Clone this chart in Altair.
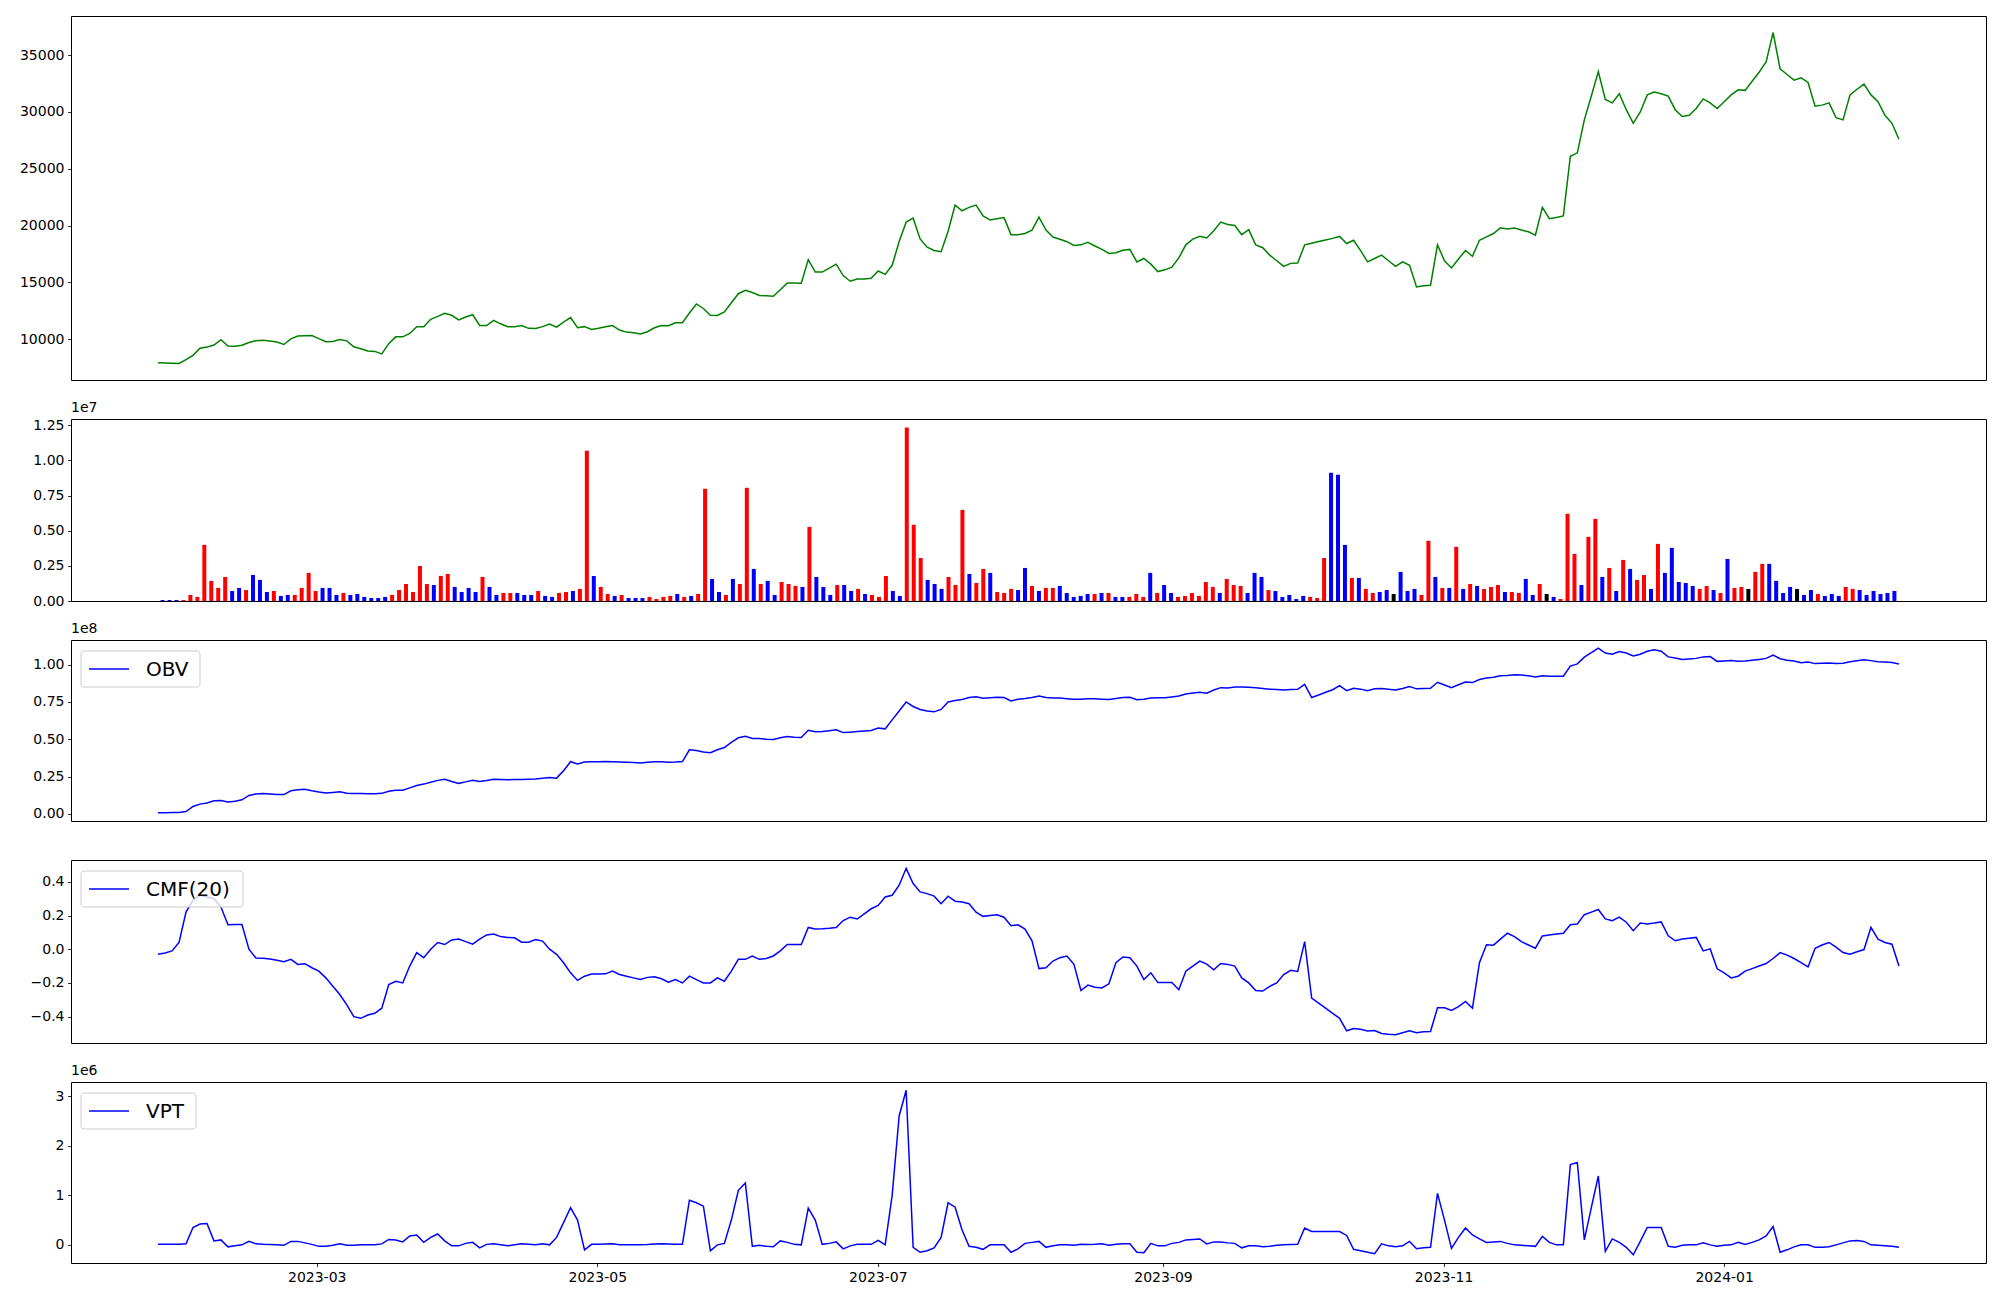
import altair as alt
import pandas as pd
import numpy as np

# ---------------- data ----------------
vol_m = [
    0.07, 0.07, 0.07, 0.07, 0.43, 0.29, 3.99, 1.43, 0.93, 1.71,
    0.71, 0.93, 0.78, 1.85, 1.50, 0.64, 0.71, 0.36, 0.43, 0.43,
    0.93, 2.00, 0.71, 0.93, 0.93, 0.43, 0.57, 0.43, 0.50, 0.29,
    0.21, 0.21, 0.29, 0.43, 0.78, 1.21, 0.64, 2.49, 1.21, 1.14,
    1.78, 1.92, 1.00, 0.64, 0.93, 0.64, 1.71, 1.00, 0.43, 0.57,
    0.57, 0.57, 0.43, 0.43, 0.71, 0.36, 0.29, 0.57, 0.64, 0.71,
    0.86, 10.69, 1.78, 1.00, 0.50, 0.36, 0.43, 0.21, 0.21, 0.21,
    0.29, 0.14, 0.29, 0.36, 0.50, 0.29, 0.36, 0.50, 7.98, 1.57,
    0.64, 0.43, 1.57, 1.21, 8.05, 2.28, 1.21, 1.43, 0.43, 1.35,
    1.21, 1.07, 1.00, 5.27, 1.71, 1.00, 0.43, 1.14, 1.14, 0.71,
    0.86, 0.50, 0.43, 0.29, 1.78, 0.71, 0.36, 12.33, 5.42, 3.06,
    1.50, 1.21, 0.86, 1.71, 1.14, 6.48, 1.92, 1.28, 2.28, 2.00,
    0.64, 0.57, 0.86, 0.78, 2.35, 1.07, 0.71, 0.93, 0.93, 1.07,
    0.57, 0.29, 0.36, 0.50, 0.50, 0.57, 0.57, 0.29, 0.29, 0.29,
    0.50, 0.29, 2.00, 0.57, 1.14, 0.57, 0.29, 0.36, 0.57, 0.36,
    1.35, 1.00, 0.57, 1.57, 1.14, 1.07, 0.57, 2.00, 1.71, 0.78,
    0.71, 0.29, 0.43, 0.14, 0.36, 0.29, 0.21, 3.06, 9.12, 8.98,
    3.99, 1.64, 1.64, 0.86, 0.57, 0.64, 0.78, 0.50, 2.07, 0.71,
    0.86, 0.43, 4.28, 1.71, 0.93, 0.93, 3.85, 0.86, 1.21, 1.07,
    0.86, 1.00, 1.14, 0.64, 0.64, 0.57, 1.57, 0.43, 1.21, 0.50,
    0.29, 0.14, 6.20, 3.35, 1.14, 4.56, 5.84, 1.71, 2.35, 0.71,
    2.92, 2.28, 1.50, 1.85, 0.86, 4.06, 2.00, 3.78, 1.35, 1.28,
    1.07, 0.86, 1.07, 0.78, 0.57, 2.99, 0.93, 1.00, 0.86, 2.07,
    2.64, 2.64, 1.43, 0.57, 1.00, 0.86, 0.43, 0.78, 0.50, 0.36,
    0.50, 0.36, 1.00, 0.86, 0.78, 0.43, 0.71, 0.50, 0.57, 0.71,
]

# R = up (red), B = down (blue), K = unchanged (black)
bar_dir = list(
    "BBBRRRRRRR" "BBRBBBRBBR" "RRRBBBRBBB" "BBBRRRRRRB" "RRBBBBRBBR"
    "RBBBRBBRRB" "RRBRRBRBBB" "RRRRBRBRRB" "BRBRRBRBBR" "RRBRBBBRBB"
    "RBRRRBBRRR" "BBBRRRBRRB" "RRRBBRBRRB" "BBBBRBRBBR" "RRBRBBRRRR"
    "RRBRRRBBBR" "BBBBBRRRBB" "BRBRRBBKBB" "BRRBRBRBRB" "RRRBRRBBRK"
    "BRRRBRRBRB" "RBRRBRBBBB" "BRRBRBRRKR" "RBBBBKBBRB" "BBRRBBBBBB"
)

price = [
    7920, 7900, 7880, 7860, 8200, 8570, 9200, 9300, 9480, 9950,
    9400, 9380, 9460, 9700, 9850, 9900, 9830, 9750, 9530, 10030,
    10270, 10300, 10320, 10050, 9770, 9800, 9960, 9850, 9330, 9150,
    8960, 8920, 8700, 9600, 10200, 10200, 10500, 11100, 11100, 11750,
    12000, 12280, 12100, 11700, 11950, 12150, 11200, 11200, 11650, 11350,
    11100, 11090, 11200, 10950, 10940, 11100, 11320, 11050, 11500, 11900,
    11000, 11100, 10850, 10950, 11100, 11200, 10800, 10620, 10570, 10450,
    10650, 11000, 11200, 11180, 11440, 11440, 12300, 13100, 12700, 12110,
    12080, 12400, 13200, 14000, 14300, 14100, 13850, 13820, 13780, 14350,
    14950, 14950, 14930, 17000, 15900, 15900, 16250, 16600, 15600, 15100,
    15300, 15300, 15350, 16000, 15700, 16500, 18600, 20300, 20650, 18820,
    18100, 17800, 17700, 19500, 21800, 21300, 21600, 21800, 20850, 20500,
    20600, 20700, 19200, 19200, 19300, 19600, 20750, 19600, 18990, 18800,
    18580, 18250, 18300, 18520, 18200, 17900, 17550, 17600, 17830, 17900,
    16800, 17100, 16600, 15950, 16100, 16330, 17150, 18300, 18800, 19050,
    18900, 19550, 20300, 20100, 20000, 19200, 19640, 18300, 18050, 17400,
    16900, 16400, 16670, 16700, 18300, 18450, 18590, 18730, 18870, 19040,
    18420, 18700, 17800, 16800, 17100, 17400, 16900, 16400, 16800, 16500,
    14600, 14700, 14750, 18300, 16900, 16270, 17050, 17800, 17300, 18700,
    19000, 19300, 19800, 19700, 19790, 19600, 19450, 19150, 21600, 20600,
    20700, 20850, 26100, 26400, 29300, 31400, 33550, 31100, 30800, 31600,
    30200, 29000, 30000, 31500, 31750, 31600, 31400, 30200, 29600, 29700,
    30300, 31150, 30800, 30300, 30900, 31500, 31950, 31900, 32700, 33500,
    34400, 36990, 33800, 33300, 32800, 33000, 32600, 30500, 30600, 30800,
    29500, 29300, 31500, 32000, 32450, 31500, 30900, 29700, 29000, 27600,
]

obv_e8 = [
    0.008, 0.008, 0.009, 0.010, 0.016, 0.050, 0.066, 0.073, 0.088, 0.090,
    0.080, 0.085, 0.095, 0.124, 0.134, 0.137, 0.134, 0.131, 0.130, 0.155,
    0.162, 0.165, 0.155, 0.147, 0.141, 0.144, 0.148, 0.139, 0.137, 0.137,
    0.136, 0.135, 0.138, 0.152, 0.159, 0.159, 0.175, 0.190, 0.200, 0.212,
    0.225, 0.232, 0.218, 0.205, 0.215, 0.225, 0.218, 0.224, 0.233, 0.231,
    0.229, 0.231, 0.231, 0.232, 0.234, 0.240, 0.245, 0.240, 0.290, 0.350,
    0.335, 0.348, 0.349, 0.350, 0.351, 0.350, 0.348, 0.346, 0.344, 0.342,
    0.346, 0.350, 0.349, 0.347, 0.348, 0.351, 0.430, 0.425, 0.415, 0.410,
    0.430, 0.445, 0.480, 0.510, 0.520, 0.506, 0.505, 0.500, 0.499, 0.510,
    0.518, 0.514, 0.512, 0.560, 0.550, 0.553, 0.558, 0.564, 0.545, 0.548,
    0.552, 0.556, 0.559, 0.575, 0.570, 0.630, 0.690, 0.750, 0.720, 0.700,
    0.690, 0.684, 0.700, 0.750, 0.760, 0.766, 0.780, 0.785, 0.775, 0.778,
    0.781, 0.780, 0.757, 0.768, 0.773, 0.780, 0.790, 0.780, 0.776, 0.777,
    0.772, 0.768, 0.769, 0.772, 0.771, 0.769, 0.767, 0.774, 0.780, 0.781,
    0.765, 0.768, 0.777, 0.778, 0.779, 0.784, 0.790, 0.803, 0.810, 0.815,
    0.809, 0.830, 0.846, 0.843, 0.850, 0.850, 0.848, 0.845, 0.840, 0.836,
    0.833, 0.831, 0.833, 0.835, 0.868, 0.780, 0.797, 0.815, 0.832, 0.860,
    0.826, 0.842, 0.836, 0.826, 0.838, 0.840, 0.836, 0.830, 0.840, 0.853,
    0.838, 0.840, 0.842, 0.882, 0.864, 0.846, 0.865, 0.883, 0.880, 0.900,
    0.910, 0.915, 0.925, 0.927, 0.933, 0.930, 0.925, 0.918, 0.925, 0.922,
    0.922, 0.922, 0.990, 1.005, 1.050, 1.080, 1.110, 1.078, 1.070, 1.088,
    1.078, 1.058, 1.070, 1.090, 1.100, 1.090, 1.052, 1.045, 1.035, 1.038,
    1.042, 1.052, 1.054, 1.022, 1.025, 1.028, 1.022, 1.024, 1.029, 1.035,
    1.042, 1.064, 1.040, 1.030, 1.024, 1.013, 1.018, 1.007, 1.009, 1.011,
    1.007, 1.010, 1.020, 1.026, 1.032, 1.027, 1.020, 1.017, 1.014, 1.005,
]

cmf20 = [
    -0.030, -0.022, -0.010, 0.040, 0.220, 0.290, 0.320, 0.310, 0.300, 0.250,
    0.145, 0.146, 0.147, 0.000, -0.052, -0.054, -0.058, -0.066, -0.074, -0.060,
    -0.090, -0.086, -0.110, -0.130, -0.170, -0.220, -0.269, -0.330, -0.400, -0.410,
    -0.390, -0.380, -0.350, -0.210, -0.190, -0.200, -0.100, -0.020, -0.050, 0.000,
    0.040, 0.028, 0.055, 0.060, 0.045, 0.030, 0.060, 0.085, 0.090, 0.075,
    0.070, 0.068, 0.042, 0.042, 0.058, 0.048, 0.000, -0.030, -0.080, -0.140,
    -0.185, -0.160, -0.147, -0.147, -0.146, -0.130, -0.150, -0.160, -0.170, -0.180,
    -0.167, -0.163, -0.175, -0.195, -0.180, -0.200, -0.160, -0.180, -0.200, -0.200,
    -0.170, -0.190, -0.130, -0.060, -0.060, -0.040, -0.060, -0.055, -0.040, -0.010,
    0.028, 0.028, 0.028, 0.129, 0.120, 0.122, 0.125, 0.129, 0.170, 0.190,
    0.179, 0.210, 0.240, 0.260, 0.310, 0.320, 0.380, 0.480, 0.390, 0.340,
    0.330, 0.315, 0.270, 0.315, 0.285, 0.280, 0.270, 0.220, 0.195, 0.200,
    0.205, 0.190, 0.140, 0.145, 0.120, 0.050, -0.115, -0.110, -0.070, -0.050,
    -0.040, -0.090, -0.245, -0.213, -0.225, -0.230, -0.205, -0.080, -0.046, -0.050,
    -0.100, -0.180, -0.140, -0.198, -0.197, -0.197, -0.240, -0.130, -0.100, -0.070,
    -0.088, -0.122, -0.085, -0.090, -0.100, -0.170, -0.200, -0.245, -0.248, -0.220,
    -0.200, -0.150, -0.125, -0.132, 0.045, -0.290, -0.320, -0.350, -0.380, -0.410,
    -0.484, -0.470, -0.475, -0.485, -0.482, -0.500, -0.505, -0.507, -0.495, -0.484,
    -0.495, -0.489, -0.488, -0.347, -0.347, -0.363, -0.340, -0.310, -0.350, -0.080,
    0.026, 0.024, 0.060, 0.095, 0.075, 0.045, 0.025, 0.006, 0.079, 0.085,
    0.090, 0.095, 0.145, 0.150, 0.205, 0.220, 0.236, 0.180, 0.169, 0.190,
    0.160, 0.110, 0.155, 0.149, 0.155, 0.162, 0.080, 0.050, 0.060, 0.065,
    0.070, -0.010, 0.002, -0.116, -0.140, -0.170, -0.160, -0.130, -0.115, -0.100,
    -0.085, -0.055, -0.020, -0.035, -0.055, -0.080, -0.105, 0.005, 0.025, 0.040,
    0.012, -0.020, -0.030, -0.015, -0.002, 0.130, 0.060, 0.040, 0.030, -0.100,
]

vpt_e6 = [
    0.01, 0.01, 0.01, 0.01, 0.02, 0.35, 0.42, 0.43, 0.08, 0.10,
    -0.04, -0.02, 0.00, 0.07, 0.02, 0.01, 0.005, 0.00, -0.01, 0.07,
    0.07, 0.04, 0.01, -0.03, -0.03, -0.01, 0.02, -0.01, -0.01, 0.00,
    0.00, 0.00, 0.02, 0.11, 0.10, 0.06, 0.18, 0.20, 0.05, 0.15,
    0.22, 0.08, -0.02, -0.02, 0.03, 0.05, -0.06, 0.01, 0.02, 0.00,
    -0.02, 0.00, 0.02, 0.01, 0.00, 0.02, 0.00, 0.15, 0.45, 0.75,
    0.50, -0.10, 0.01, 0.01, 0.015, 0.02, 0.00, 0.00, 0.00, 0.00,
    0.005, 0.015, 0.02, 0.015, 0.01, 0.01, 0.90, 0.85, 0.78, -0.12,
    0.00, 0.03, 0.50, 1.10, 1.25, -0.03, -0.01, -0.03, -0.04, 0.08,
    0.05, 0.01, 0.00, 0.74, 0.50, 0.01, 0.03, 0.06, -0.08, -0.02,
    0.01, 0.01, 0.01, 0.09, 0.00, 1.00, 2.60, 3.12, -0.05, -0.15,
    -0.12, -0.06, 0.15, 0.85, 0.76, 0.30, -0.03, -0.05, -0.09, 0.00,
    0.00, 0.00, -0.15, -0.08, 0.03, 0.05, 0.07, -0.05, -0.02, 0.00,
    0.00, -0.01, 0.01, 0.005, 0.01, 0.02, -0.01, 0.01, 0.02, 0.02,
    -0.15, -0.16, 0.03, -0.02, -0.02, 0.03, 0.05, 0.10, 0.11, 0.12,
    0.02, 0.06, 0.06, 0.04, 0.03, -0.06, -0.02, -0.02, -0.04, -0.03,
    -0.01, 0.00, 0.005, 0.01, 0.34, 0.27, 0.27, 0.27, 0.27, 0.27,
    0.19, -0.09, -0.12, -0.15, -0.18, 0.02, -0.02, -0.04, -0.02, 0.07,
    -0.08, -0.06, -0.05, 1.04, 0.50, -0.07, 0.15, 0.34, 0.20, 0.12,
    0.05, 0.06, 0.07, 0.03, 0.00, -0.01, -0.02, -0.03, 0.17, 0.05,
    0.00, 0.00, 1.62, 1.66, 0.10, 0.75, 1.39, -0.13, 0.12, 0.05,
    -0.05, -0.20, 0.07, 0.35, 0.35, 0.35, -0.03, -0.05, -0.01, 0.00,
    0.00, 0.04, 0.00, -0.03, -0.01, 0.00, 0.05, 0.01, 0.05, 0.10,
    0.18, 0.37, -0.15, -0.10, -0.04, 0.00, 0.00, -0.05, -0.05, -0.04,
    0.00, 0.04, 0.08, 0.09, 0.07, 0.00, -0.01, -0.02, -0.03, -0.05,
]

price_ticks = [10000, 15000, 20000, 25000, 30000, 35000]
vol_ticks_e7 = [0.0, 0.25, 0.5, 0.75, 1.0, 1.25]
obv_ticks_e8 = [0.0, 0.25, 0.5, 0.75, 1.0]
cmf_ticks = [-0.4, -0.2, 0.0, 0.2, 0.4]
vpt_ticks_e6 = [0, 1, 2, 3]
month_ticks = [(2023, 3), (2023, 5), (2023, 7), (2023, 9), (2023, 11), (2024, 1)]

# ---------------- table ----------------
N = len(vol_m)
dates = pd.date_range("2023-01-25 12:00", "2024-02-08 00:00", periods=N)
df = pd.DataFrame({
    "date": [d.strftime("%Y-%m-%dT%H:%M:%SZ") for d in dates],
    "price": price,
    "volume": np.array(vol_m) * 1e6,
    "dir": bar_dir,
    "obv": np.array(obv_e8) * 1e8,
    "cmf": cmf20,
    "vpt": np.array(vpt_e6) * 1e6,
})

def padded(vals, lo_zero=False):
    lo, hi = float(np.min(vals)), float(np.max(vals))
    m = 0.05 * (hi - lo)
    return [0.0 if lo_zero else lo - m, hi + m]

span = dates[-1] - dates[0]
x0 = dates[0] - 0.05 * span
x1 = dates[-1] + 0.05 * span
xdom = [int(x0.timestamp() * 1000), int(x1.timestamp() * 1000)]
xscale = alt.Scale(type="utc", domain=xdom)

W = 1915
FONT = "DejaVu Sans"

base = alt.Chart(df)
x_hidden = alt.X("date:T", scale=xscale, axis=None)


def offset_label(txt):
    return alt.Chart(pd.DataFrame({"t": [txt]})).mark_text(
        align="left", baseline="bottom", fontSize=14, font=FONT, color="black"
    ).encode(x=alt.value(0), y=alt.value(-4), text="t:N")


def legend_box(label, right):
    d = pd.DataFrame({"t": [label]})
    box = alt.Chart(d).mark_rect(
        fill="white", fillOpacity=0.8, stroke="#cccccc", strokeWidth=1, cornerRadius=3
    ).encode(x=alt.value(10), x2=alt.value(right), y=alt.value(11), y2=alt.value(47))
    sample = alt.Chart(d).mark_rule(color="blue", strokeWidth=1.5).encode(
        x=alt.value(18), x2=alt.value(58), y=alt.value(29)
    )
    text = alt.Chart(d).mark_text(
        align="left", baseline="middle", fontSize=20, font=FONT, color="black"
    ).encode(x=alt.value(75), y=alt.value(30), text="t:N")
    return box + sample + text


# Panel 1: price
p1 = base.mark_line(color="green", strokeWidth=1.5).encode(
    x=x_hidden,
    y=alt.Y("price:Q", title=None,
            scale=alt.Scale(domain=padded(price), nice=False, zero=False),
            axis=alt.Axis(values=price_ticks, format="d")),
).properties(width=W, height=364)

# Panel 2: volume bars
vol_bars = base.mark_bar(width=4.0).encode(
    x=x_hidden,
    y=alt.Y("volume:Q", title=None,
            scale=alt.Scale(domain=padded(df["volume"], lo_zero=True), nice=False),
            axis=alt.Axis(values=[v * 1e7 for v in vol_ticks_e7],
                          labelExpr="format(datum.value / 1e7, '.2f')")),
    color=alt.Color("dir:N", legend=None,
                    scale=alt.Scale(domain=["R", "B", "K"],
                                    range=["#ff0000", "#0000ff", "#000000"])),
)
p2 = alt.layer(vol_bars, offset_label("1e7")).properties(width=W, height=182)

# Panel 3: OBV
obv_line = base.mark_line(color="blue", strokeWidth=1.5).encode(
    x=x_hidden,
    y=alt.Y("obv:Q", title=None,
            scale=alt.Scale(domain=padded(df["obv"]), nice=False, zero=False),
            axis=alt.Axis(values=[v * 1e8 for v in obv_ticks_e8],
                          labelExpr="format(datum.value / 1e8, '.2f')")),
)
p3 = alt.layer(obv_line, offset_label("1e8"), legend_box("OBV", 129)).properties(width=W, height=181)

# Panel 4: CMF(20)
cmf_line = base.mark_line(color="blue", strokeWidth=1.5).encode(
    x=x_hidden,
    y=alt.Y("cmf:Q", title=None,
            scale=alt.Scale(domain=padded(cmf20), nice=False, zero=False),
            axis=alt.Axis(values=cmf_ticks, format=".1f")),
)
p4 = alt.layer(cmf_line, legend_box("CMF(20)", 172)).properties(width=W, height=183)

# Panel 5: VPT
vpt_line = base.mark_line(color="blue", strokeWidth=1.5).encode(
    x=alt.X("date:T", scale=xscale, title=None,
            axis=alt.Axis(values=[alt.DateTime(year=y, month=m, date=1, utc=True) for y, m in month_ticks],
                          labelExpr="utcFormat(datum.value, '%Y-%m')", labelAngle=0)),
    y=alt.Y("vpt:Q", title=None,
            scale=alt.Scale(domain=padded(df["vpt"]), nice=False, zero=False),
            axis=alt.Axis(values=[v * 1e6 for v in vpt_ticks_e6],
                          labelExpr="format(datum.value / 1e6, 'd')")),
)
p5 = alt.layer(vpt_line, offset_label("1e6"), legend_box("VPT", 125)).properties(width=W, height=181)

chart = alt.vconcat(p1, p2, p3, p4, p5, spacing=39, bounds="flush").resolve_scale(
    color="independent"
).properties(
    padding={"left": 10, "top": 7, "right": 5, "bottom": 5}
).configure_view(
    stroke="black", strokeWidth=1
).configure_axis(
    labelFont=FONT, labelFontSize=14, labelColor="black",
    tickColor="black", tickSize=3.5, tickWidth=0.8,
    domain=False, grid=False, labelPadding=3.5,
)

chart.save("out.html", embed_options={"renderer": "svg", "actions": False})
